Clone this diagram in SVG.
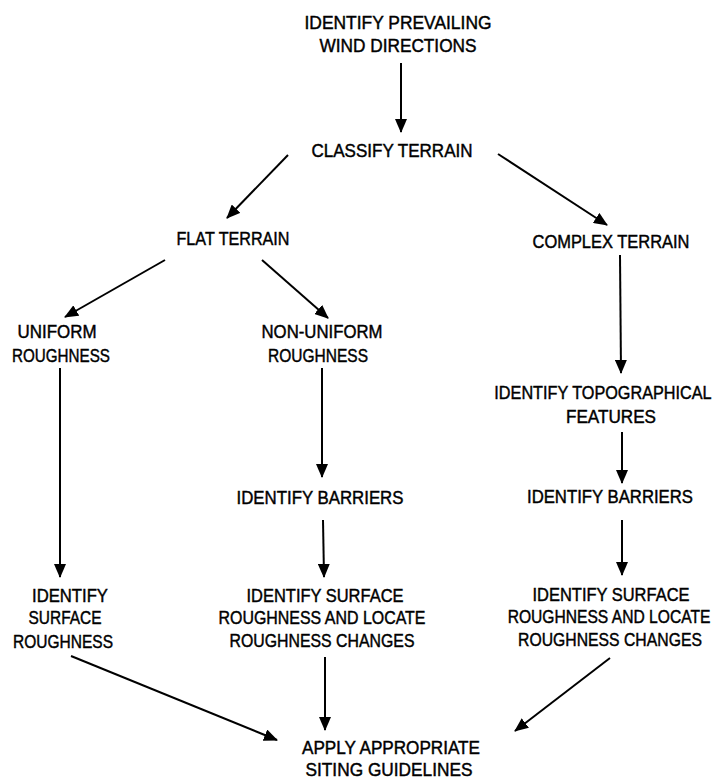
<svg xmlns="http://www.w3.org/2000/svg" width="718" height="779" viewBox="0 0 718 779">
<style>
text{font-family:"Liberation Sans",Arial,sans-serif;font-size:19px;fill:#000;stroke:#000;stroke-width:0.45;text-anchor:middle}
.c line{stroke:#000;stroke-width:2;marker-end:url(#ah)}
</style>
<defs>
<marker id="ah" markerUnits="userSpaceOnUse" markerWidth="14" markerHeight="12" refX="13" refY="6" orient="auto" viewBox="0 0 14 12">
<path d="M0,0 L14,6 L0,12 z" fill="#000"/>
</marker>
</defs>
<rect width="718" height="779" fill="#fff"/>
<g class="c" id="connectors">
<line x1="401" y1="63" x2="401" y2="132"/>
<line x1="288" y1="155" x2="227" y2="218"/>
<line x1="498" y1="154" x2="607" y2="225"/>
<line x1="165" y1="260" x2="65" y2="317"/>
<line x1="262" y1="260" x2="328" y2="318"/>
<line x1="60" y1="368" x2="60" y2="577"/>
<line x1="322" y1="368" x2="322" y2="477"/>
<line x1="620" y1="255" x2="621" y2="373"/>
<line x1="622" y1="432" x2="622" y2="483"/>
<line x1="323" y1="520" x2="324" y2="577"/>
<line x1="622" y1="520" x2="622" y2="575"/>
<line x1="71" y1="656" x2="277" y2="740"/>
<line x1="325" y1="657" x2="325" y2="730"/>
<line x1="610" y1="658" x2="515" y2="731"/>
</g>
<g id="n-wind"><text x="398" y="29" textLength="187" lengthAdjust="spacingAndGlyphs">IDENTIFY PREVAILING</text><text x="398" y="52" textLength="157" lengthAdjust="spacingAndGlyphs">WIND DIRECTIONS</text></g>
<g id="n-classify"><text x="392" y="157" textLength="161" lengthAdjust="spacingAndGlyphs">CLASSIFY TERRAIN</text></g>
<g id="n-flat"><text x="233" y="245" textLength="113" lengthAdjust="spacingAndGlyphs">FLAT TERRAIN</text></g>
<g id="n-complex"><text x="611" y="248" textLength="157" lengthAdjust="spacingAndGlyphs">COMPLEX TERRAIN</text></g>
<g id="n-uniform"><text x="57" y="338" textLength="79" lengthAdjust="spacingAndGlyphs">UNIFORM</text><text x="61" y="362" textLength="98" lengthAdjust="spacingAndGlyphs">ROUGHNESS</text></g>
<g id="n-nonuniform"><text x="322" y="338" textLength="121" lengthAdjust="spacingAndGlyphs">NON-UNIFORM</text><text x="318" y="362" textLength="100" lengthAdjust="spacingAndGlyphs">ROUGHNESS</text></g>
<g id="n-topo"><text transform="translate(603,399) scale(0.855,1)" x="0" y="0">IDENTIFY TOPOGRAPHICAL</text><text x="611" y="423" textLength="90" lengthAdjust="spacingAndGlyphs">FEATURES</text></g>
<g id="n-barriers1"><text x="320" y="504" textLength="167" lengthAdjust="spacingAndGlyphs">IDENTIFY BARRIERS</text></g>
<g id="n-barriers2"><text x="610" y="503" textLength="166" lengthAdjust="spacingAndGlyphs">IDENTIFY BARRIERS</text></g>
<g id="n-surface1"><text x="70" y="602" textLength="76" lengthAdjust="spacingAndGlyphs">IDENTIFY</text><text x="65" y="624" textLength="73" lengthAdjust="spacingAndGlyphs">SURFACE</text><text x="63" y="648" textLength="100" lengthAdjust="spacingAndGlyphs">ROUGHNESS</text></g>
<g id="n-surface2"><text x="325" y="602" textLength="157" lengthAdjust="spacingAndGlyphs">IDENTIFY SURFACE</text><text x="322" y="624" textLength="207" lengthAdjust="spacingAndGlyphs">ROUGHNESS AND LOCATE</text><text x="322" y="647" textLength="185" lengthAdjust="spacingAndGlyphs">ROUGHNESS CHANGES</text></g>
<g id="n-surface3"><text x="611" y="601" textLength="157" lengthAdjust="spacingAndGlyphs">IDENTIFY SURFACE</text><text transform="translate(609,623) scale(0.823,1)" x="0" y="0">ROUGHNESS AND LOCATE</text><text transform="translate(610,646) scale(0.83,1)" x="0" y="0">ROUGHNESS CHANGES</text></g>
<g id="n-apply"><text x="391" y="754" textLength="178" lengthAdjust="spacingAndGlyphs">APPLY APPROPRIATE</text><text x="389" y="776" textLength="167" lengthAdjust="spacingAndGlyphs">SITING GUIDELINES</text></g>
</svg>
